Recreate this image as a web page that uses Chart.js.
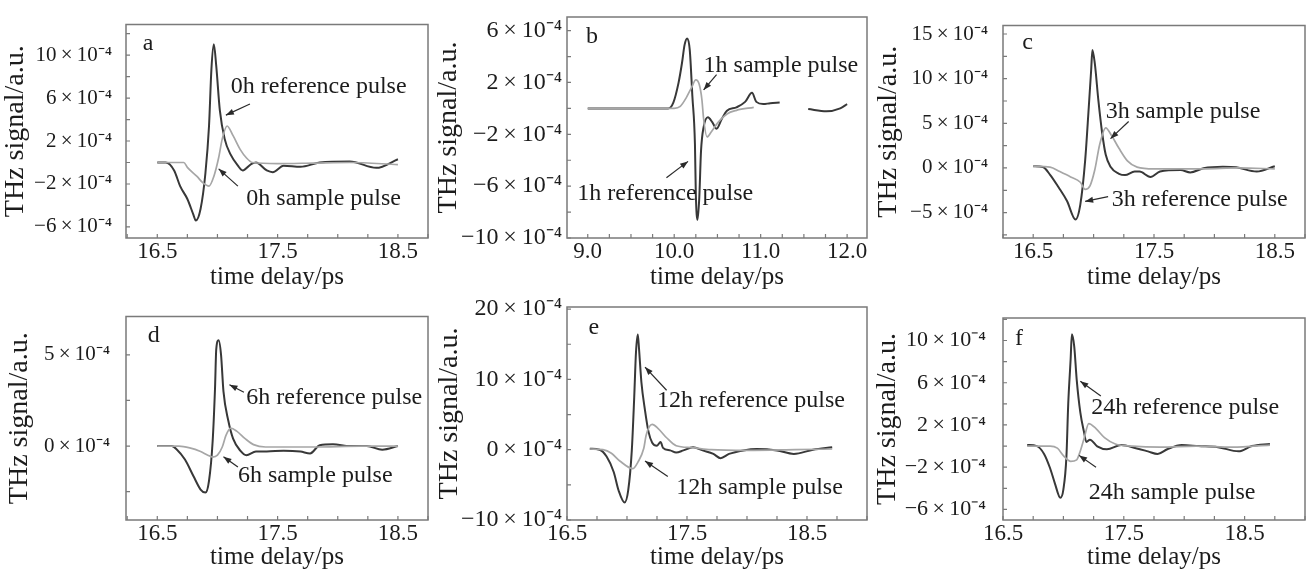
<!DOCTYPE html>
<html>
<head>
<meta charset="utf-8">
<script src="https://cdn.jsdelivr.net/npm/chart.js@4.4.1/dist/chart.umd.min.js"></script>
<style>
  html, body { margin: 0; padding: 0; background: #fff; }
  #fig { position: relative; width: 1311px; height: 572px; overflow: hidden; background: #fff; }
  #fig canvas { position: absolute; }
</style>
</head>
<body>
<div id="fig">
  <canvas id="pa"></canvas>
  <canvas id="pb"></canvas>
  <canvas id="pc"></canvas>
  <canvas id="pd"></canvas>
  <canvas id="pe"></canvas>
  <canvas id="pf"></canvas>
</div>
<script>
// THz signal in units of 1e-4, time delay in ps

// a: 0 h
const aRefT = [16.50, 16.57, 16.64, 16.69, 16.75, 16.80, 16.82, 16.86, 16.90, 16.93, 16.95, 16.97, 16.99, 17.02, 17.06, 17.11, 17.17, 17.21, 17.28, 17.32, 17.41, 17.46, 17.55, 17.69, 17.85, 18.10, 18.32, 18.50];
const aRefV = [0, 0, -0.74, -2.2, -3.4, -4.85, -5.4, -4.3, -1.0, 3.4, 8.7, 11.0, 9.0, 4.85, 2.2, 0.73, -0.3, -0.74, -0.15, 0, -0.74, -0.9, -0.3, -0.4, 0, 0.1, -0.5, 0.3];
const aSmpT = [16.50, 16.72, 16.75, 16.83, 16.88, 16.93, 16.97, 17.01, 17.04, 17.08, 17.13, 17.19, 17.24, 17.29, 17.50, 17.80, 18.10, 18.50];
const aSmpV = [0, 0, -0.45, -1.3, -1.9, -2.2, -1.3, 0.44, 2.2, 3.4, 2.5, 1.2, 0.44, 0.0, -0.1, -0.05, 0, -0.2];

// b: 1 h (null = gap in the trace)
const bRefT = [9.00, 9.93, 9.99, 10.05, 10.09, 10.12, 10.15, 10.18, 10.21, 10.24, 10.25, 10.27, 10.29, 10.31, 10.34, 10.39, 10.44, 10.49, 10.55, 10.61, 10.72, 10.82, 10.90, 10.95, 11.03, 11.11, 11.22, 11.38, 11.55, 11.76, 11.92, 12.00];
const bRefV = [0, 0, 0.45, 1.97, 3.5, 4.9, 5.4, 4.5, 0.96, -2.8, -6.6, -8.6, -6.9, -3.3, -1.44, -0.68, -1.06, -1.57, -0.81, -0.18, 0.08, 0.5, 1.2, 0.5, 0.33, 0.4, 0.45, null, -0.05, -0.23, 0, 0.33];
const bSmpT = [9.00, 10.00, 10.07, 10.14, 10.20, 10.25, 10.29, 10.32, 10.34, 10.38, 10.43, 10.51, 10.61, 10.72, 10.92];
const bSmpV = [0, 0, 0.15, 0.83, 1.6, 2.2, 1.84, 0.7, -0.8, -2.2, -1.8, -1.06, -0.43, -0.15, 0.08];

// c: 3 h
const cRefT = [16.50, 16.58, 16.64, 16.71, 16.78, 16.85, 16.89, 16.93, 16.96, 16.98, 16.99, 17.01, 17.04, 17.07, 17.10, 17.14, 17.21, 17.26, 17.34, 17.38, 17.47, 17.55, 17.72, 17.80, 17.91, 18.07, 18.18, 18.35, 18.50];
const cRefV = [0.2, 0.1, -0.76, -2.16, -3.7, -5.77, -4.1, 0.82, 6.8, 11.0, 13.2, 11.7, 7.5, 4.0, 1.5, 0.13, -0.65, -0.8, -0.4, -0.4, -1.0, -0.4, -0.23, -0.5, -0.04, 0.13, 0.07, -0.4, 0.2];
const cSmpT = [16.50, 16.64, 16.72, 16.81, 16.89, 16.93, 16.97, 17.01, 17.05, 17.10, 17.15, 17.21, 17.28, 17.36, 17.50, 17.90, 18.20, 18.50];
const cSmpV = [0.2, 0.1, -0.4, -1.0, -1.6, -2.4, -2.0, -0.2, 2.6, 4.5, 3.6, 2.2, 0.8, 0.1, -0.1, -0.1, 0, -0.1];

// d: 6 h
const dRefT = [16.50, 16.62, 16.66, 16.73, 16.80, 16.86, 16.90, 16.93, 16.96, 16.98, 16.99, 17.01, 17.03, 17.05, 17.09, 17.13, 17.19, 17.24, 17.32, 17.41, 17.55, 17.69, 17.77, 17.85, 17.96, 18.10, 18.24, 18.37, 18.50];
const dRefV = [0, 0, -0.17, -0.74, -1.64, -2.38, -2.55, -1.9, 0.25, 3.2, 5.3, 5.8, 5.0, 3.0, 1.4, 0.41, -0.25, -0.5, -0.3, -0.3, -0.25, -0.3, -0.4, 0.05, 0.1, 0, 0, -0.2, 0];
const dSmpT = [16.50, 16.68, 16.77, 16.86, 16.92, 16.96, 17.00, 17.04, 17.07, 17.11, 17.16, 17.23, 17.30, 17.40, 17.80, 18.20, 18.50];
const dSmpV = [0, 0, -0.1, -0.3, -0.5, -0.6, -0.5, -0.05, 0.57, 0.98, 0.82, 0.41, 0.08, -0.05, -0.05, 0, 0];

// e: 12 h
const eRefT = [16.69, 16.77, 16.83, 16.89, 16.93, 16.98, 17.01, 17.04, 17.06, 17.075, 17.09, 17.10, 17.12, 17.15, 17.18, 17.21, 17.25, 17.28, 17.30, 17.36, 17.41, 17.47, 17.55, 17.63, 17.72, 17.78, 17.85, 17.97, 18.08, 18.25, 18.39, 18.55, 18.71];
const eRefV = [0.13, 0, -0.96, -3.2, -5.8, -7.5, -5.8, -0.1, 7.4, 13.9, 16.4, 14.4, 9.6, 5.6, 2.5, 1.0, 0.57, 1.1, 0.26, -0.1, -0.4, -0.1, 0.35, -0.1, -0.6, -1.2, -0.6, -0.1, 0.1, -0.1, -0.6, 0, 0.35];
const eSmpT = [16.69, 16.80, 16.87, 16.94, 17.05, 17.09, 17.14, 17.16, 17.21, 17.26, 17.33, 17.41, 17.54, 17.70, 18.00, 18.40, 18.71];
const eSmpV = [0.1, 0, -0.5, -1.6, -2.7, -1.8, 0.2, 2.1, 3.6, 3.0, 1.7, 0.57, 0.3, 0, -0.1, 0, 0.1];

// f: 24 h
const fRefT = [16.70, 16.78, 16.84, 16.89, 16.93, 16.975, 17.00, 17.025, 17.04, 17.06, 17.07, 17.09, 17.11, 17.14, 17.17, 17.19, 17.22, 17.28, 17.36, 17.48, 17.60, 17.70, 17.78, 17.86, 17.98, 18.12, 18.28, 18.45, 18.56, 18.71];
const fRefV = [0.1, 0, -0.74, -2.1, -3.55, -4.9, -4.1, -1.0, 4.0, 8.25, 10.6, 9.4, 6.3, 3.2, 1.37, 0.39, 0.6, -0.02, -0.3, 0.1, -0.2, -0.5, -0.75, -0.3, 0.1, 0, -0.1, -0.5, 0, 0.2];
const fSmpT = [16.70, 16.89, 16.95, 17.00, 17.06, 17.11, 17.14, 17.17, 17.21, 17.27, 17.34, 17.43, 17.57, 17.80, 18.10, 18.40, 18.71];
const fSmpV = [0, 0, -0.2, -0.9, -1.44, -1.3, -0.46, 0.67, 2.13, 1.65, 0.8, 0.2, 0, -0.1, 0, -0.1, 0.1];

const SERIF = "'Liberation Serif', 'Times New Roman', serif";
const TEXT = '#1c1c1c';
const REF_COLOR = '#383838';
const SMP_COLOR = '#a6a6a6';
const FRAME = '#7a7a7a';

function pts(xs, ys) {
    return xs.map((x, i) => ({ x: x, y: ys[i] }));
}

function onGrid(v, off, every) {
    const k = (v - off) / every;
    return Math.abs(k - Math.round(k)) < 1e-6;
}

// e.g. "−6×10⁻⁴" with thin spaces around the times sign
function yLabel(v) {
    return (v < 0 ? '\u2212' : '') + Math.abs(v) + '\u2009\u00d7\u200910\u207b\u2074';
}

function arrow(ctx, x1, y1, x2, y2) {
    ctx.beginPath();
    ctx.moveTo(x1, y1);
    ctx.lineTo(x2, y2);
    ctx.stroke();
    const a = Math.atan2(y2 - y1, x2 - x1), len = 8, w = 3;
    ctx.beginPath();
    ctx.moveTo(x2, y2);
    ctx.lineTo(x2 - len * Math.cos(a) + w * Math.sin(a), y2 - len * Math.sin(a) - w * Math.cos(a));
    ctx.lineTo(x2 - len * Math.cos(a) - w * Math.sin(a), y2 - len * Math.sin(a) + w * Math.cos(a));
    ctx.closePath();
    ctx.fill();
}

// canvas: [left, top, width, height]; pad: [top, right]
const panels = [
    { id: 'pa', letter: 'a', canvas: [2, 0, 433, 290], pad: [13, 7], yW: 124, xH: 52, yGap: 14, yFont: 21,
      x: [16.24, 18.75], xOff: 0.5, y: [-7.03, 12.85], yStep: 2, yOff: 2, yEvery: 4,
      ref: pts(aRefT, aRefV), smp: pts(aSmpT, aSmpV), letterAt: [16.38, 11.06],
      notes: [
          { text: '0h reference pulse', at: [17.11, 7.09], from: [17.27, 5.44], to: [17.07, 4.41] },
          { text: '0h sample pulse', at: [17.24, -3.39], from: [17.17, -2.2], to: [17.01, -0.59] }
      ] },
    { id: 'pb', letter: 'b', canvas: [435, 0, 437, 290], pad: [13, 5], yW: 132, xH: 52, yGap: 5, yFont: 24,
      x: [8.76, 12.23], xOff: 0, y: [-10, 7.05], yStep: 2, yOff: 2, yEvery: 4,
      ref: pts(bRefT, bRefV), smp: pts(bSmpT, bSmpV), letterAt: [8.98, 5.5],
      notes: [
          { text: '1h sample pulse', at: [10.34, 3.26], from: [10.49, 2.6], to: [10.34, 1.42] },
          { text: '1h reference pulse', at: [8.88, -6.6], from: [9.91, -5.35], to: [10.16, -4.09] }
      ] },
    { id: 'pc', letter: 'c', canvas: [875, 0, 436, 290], pad: [13, 6], yW: 128, xH: 52, yGap: 15, yFont: 21,
      x: [16.25, 18.75], xOff: 0.5, y: [-7.84, 15.95], yStep: 2.5, yOff: 0, yEvery: 5,
      ref: pts(cRefT, cRefV), smp: pts(cSmpT, cSmpV), letterAt: [16.41, 14.0],
      notes: [
          { text: '3h sample pulse', at: [17.10, 6.26], from: [17.29, 5.2], to: [17.14, 3.28] },
          { text: '3h reference pulse', at: [17.15, -3.56], from: [17.12, -3.2], to: [16.93, -3.74] }
      ] },
    { id: 'pd', letter: 'd', canvas: [6, 290, 429, 280], pad: [4, 7], yW: 120, xH: 50, yGap: 16, yFont: 21,
      x: [16.24, 18.75], xOff: 0.5, y: [-4.05, 7.1], yStep: 2.5, yOff: 0, yEvery: 5,
      ref: pts(dRefT, dRefV), smp: pts(dSmpT, dSmpV), letterAt: [16.42, 6.07],
      notes: [
          { text: '6h reference pulse', at: [17.24, 2.67], from: [17.22, 2.95], to: [17.1, 3.36] },
          { text: '6h sample pulse', at: [17.17, -1.64], from: [17.17, -1.15], to: [17.05, -0.58] }
      ] },
    { id: 'pe', letter: 'e', canvas: [436, 290, 436, 280], pad: [4, 5], yW: 131, xH: 50, yGap: 5, yFont: 24,
      x: [16.5, 19.0], xOff: 0.5, y: [-10, 20.3], yStep: 5, yOff: 0, yEvery: 10,
      ref: pts(eRefT, eRefV), smp: pts(eSmpT, eSmpV), letterAt: [16.68, 17.3],
      notes: [
          { text: '12h reference pulse', at: [17.25, 6.93], from: [17.33, 8.46], to: [17.15, 11.75] },
          { text: '12h sample pulse', at: [17.41, -5.35], from: [17.34, -3.8], to: [17.15, -1.6] }
      ] },
    { id: 'pf', letter: 'f', canvas: [874, 290, 437, 280], pad: [4, 6], yW: 129, xH: 50, yGap: 17, yFont: 22,
      x: [16.5, 19.0], xOff: 0.5, y: [-7.0, 12.13], yStep: 2, yOff: 2, yEvery: 4,
      ref: pts(fRefT, fRefV), smp: pts(fSmpT, fSmpV), letterAt: [16.6, 10.2],
      notes: [
          { text: '24h reference pulse', at: [17.23, 3.62], from: [17.31, 4.74], to: [17.14, 6.15] },
          { text: '24h sample pulse', at: [17.21, -4.39], from: [17.27, -2.0], to: [17.13, -0.88] }
      ] }
];

function makeChart(p) {
    const el = document.getElementById(p.id);
    el.width = p.canvas[2];
    el.height = p.canvas[3];
    el.style.left = p.canvas[0] + 'px';
    el.style.top = p.canvas[1] + 'px';

    // frame, inward ticks, panel letter and arrow notes
    const decor = {
        id: 'decor',
        afterDatasetsDraw(chart) {
            const { ctx, chartArea: ca, scales: { x, y } } = chart;
            ctx.save();
            ctx.strokeStyle = FRAME;
            ctx.lineWidth = 1.5;
            ctx.strokeRect(ca.left, ca.top, ca.right - ca.left, ca.bottom - ca.top);
            ctx.lineWidth = 1.2;
            ctx.beginPath();
            x.ticks.forEach(t => {
                const px = x.getPixelForValue(t.value);
                ctx.moveTo(px, ca.bottom);
                ctx.lineTo(px, ca.bottom - 4);
            });
            y.ticks.forEach(t => {
                const py = y.getPixelForValue(t.value);
                ctx.moveTo(ca.left, py);
                ctx.lineTo(ca.left + 4, py);
            });
            ctx.stroke();

            ctx.textBaseline = 'middle';
            ctx.textAlign = 'left';
            ctx.font = '24px ' + SERIF;
            ctx.fillStyle = TEXT;
            ctx.fillText(p.letter, x.getPixelForValue(p.letterAt[0]), y.getPixelForValue(p.letterAt[1]));

            p.notes.forEach(n => {
                ctx.fillStyle = TEXT;
                ctx.fillText(n.text, x.getPixelForValue(n.at[0]), y.getPixelForValue(n.at[1]));
                ctx.strokeStyle = '#2a2a2a';
                ctx.fillStyle = '#2a2a2a';
                ctx.lineWidth = 1.2;
                arrow(ctx,
                    x.getPixelForValue(n.from[0]), y.getPixelForValue(n.from[1]),
                    x.getPixelForValue(n.to[0]), y.getPixelForValue(n.to[1]));
            });
            ctx.restore();
        }
    };

    return new Chart(el.getContext('2d'), {
        type: 'line',
        data: {
            datasets: [
                { data: p.smp, borderColor: SMP_COLOR, borderWidth: 1.7, pointRadius: 0,
                  cubicInterpolationMode: 'monotone', spanGaps: false },
                { data: p.ref, borderColor: REF_COLOR, borderWidth: 2, pointRadius: 0,
                  cubicInterpolationMode: 'monotone', spanGaps: false }
            ]
        },
        options: {
            responsive: false,
            animation: false,
            devicePixelRatio: 1,
            layout: { padding: { top: p.pad[0], right: p.pad[1], left: 0, bottom: 0 } },
            plugins: { legend: { display: false }, tooltip: { enabled: false } },
            scales: {
                x: {
                    type: 'linear',
                    min: p.x[0],
                    max: p.x[1],
                    grid: { display: false, drawTicks: false },
                    border: { display: false },
                    afterFit: s => { s.height = p.xH; },
                    ticks: {
                        stepSize: 0.25,
                        includeBounds: false,
                        autoSkip: false,
                        maxRotation: 0,
                        padding: 2,
                        color: TEXT,
                        font: { family: SERIF, size: 23, lineHeight: 1 },
                        callback: v => onGrid(v, p.xOff, 1) ? v.toFixed(1) : ''
                    },
                    title: {
                        display: true,
                        text: 'time delay/ps',
                        color: TEXT,
                        padding: 0,
                        font: { family: SERIF, size: 25, lineHeight: 1 }
                    }
                },
                y: {
                    min: p.y[0],
                    max: p.y[1],
                    grid: { display: false, drawTicks: false },
                    border: { display: false },
                    afterFit: s => { s.width = p.yW; },
                    ticks: {
                        stepSize: p.yStep,
                        includeBounds: false,
                        autoSkip: false,
                        padding: p.yGap,
                        color: TEXT,
                        font: { family: SERIF, size: p.yFont, lineHeight: 1 },
                        callback: v => onGrid(v, p.yOff, p.yEvery) ? yLabel(v) : ''
                    },
                    title: {
                        display: true,
                        text: 'THz signal/a.u.',
                        color: TEXT,
                        padding: 0,
                        font: { family: SERIF, size: 28, lineHeight: 1 }
                    }
                }
            }
        },
        plugins: [decor]
    });
}

panels.forEach(makeChart);
</script>
</body>
</html>
